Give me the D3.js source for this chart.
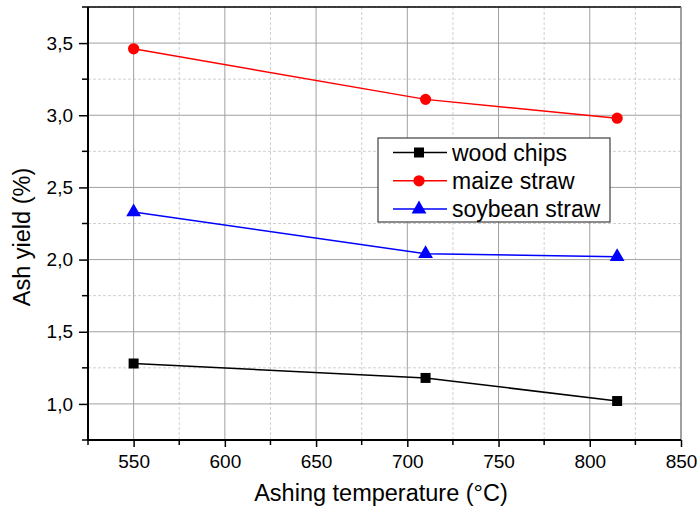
<!DOCTYPE html>
<html>
<head>
<meta charset="utf-8">
<script src="https://cdn.jsdelivr.net/npm/d3@7"></script>
<style>
  body { margin: 0; background: #fff; }
  svg { font-family: Arial, "Liberation Sans", sans-serif; }
</style>
</head>
<body>
<script>
const temperatures = [550, 710, 815];
const woodChips = [1.28, 1.18, 1.02];
const maizeStraw = [3.46, 3.11, 2.98];
const soybeanStraw = [2.33, 2.04, 2.02];
const xTicks = [550, 600, 650, 700, 750, 800, 850];
const yTicks = [1.0, 1.5, 2.0, 2.5, 3.0, 3.5];

const series = [
  { name: 'wood chips', values: woodChips, color: '#000000', symbol: d3.symbolSquare, size: 100 },
  { name: 'maize straw', values: maizeStraw, color: '#ff0000', symbol: d3.symbolCircle, size: 100 },
  { name: 'soybean straw', values: soybeanStraw, color: '#0000ff', symbol: d3.symbolTriangle, size: 95 },
];

const width = 697;
const height = 515;
const plot = { left: 88, right: 681, top: 7, bottom: 440 };

const svg = d3.select('body').append('svg')
  .attr('width', width)
  .attr('height', height);

const x = d3.scaleLinear().domain([525, 850]).range([plot.left, plot.right]);
const y = d3.scaleLinear().domain([0.75, 3.75]).range([plot.bottom, plot.top]);

const xMinor = d3.range(525, 851, 25).filter(v => v % 50 !== 0);
const yMinor = d3.range(0.75, 3.76, 0.5);

// grid
const grid = svg.append('g').attr('class', 'grid');
grid.selectAll('.vminor').data(xMinor).enter().append('line')
  .attr('x1', d => x(d)).attr('x2', d => x(d))
  .attr('y1', plot.top).attr('y2', plot.bottom)
  .attr('stroke', '#d0d0d0').attr('stroke-dasharray', '3,2');
grid.selectAll('.hminor').data(yMinor).enter().append('line')
  .attr('y1', d => y(d)).attr('y2', d => y(d))
  .attr('x1', plot.left).attr('x2', plot.right)
  .attr('stroke', '#d0d0d0').attr('stroke-dasharray', '3,2');
grid.selectAll('.vmajor').data(xTicks.slice(0, -1)).enter().append('line')
  .attr('x1', d => x(d)).attr('x2', d => x(d))
  .attr('y1', plot.top).attr('y2', plot.bottom)
  .attr('stroke', '#a0a0a0');
grid.selectAll('.hmajor').data(yTicks).enter().append('line')
  .attr('y1', d => y(d)).attr('y2', d => y(d))
  .attr('x1', plot.left).attr('x2', plot.right)
  .attr('stroke', '#a0a0a0');

// frame (top and right)
svg.append('line')
  .attr('x1', plot.left).attr('x2', plot.right)
  .attr('y1', plot.top).attr('y2', plot.top)
  .attr('stroke', '#000').attr('stroke-width', 1.5);
svg.append('line')
  .attr('x1', plot.right).attr('x2', plot.right)
  .attr('y1', plot.top).attr('y2', plot.bottom)
  .attr('stroke', '#808080').attr('stroke-width', 1.5);

// axes
const xAxis = svg.append('g')
  .attr('transform', `translate(0, ${plot.bottom})`)
  .call(d3.axisBottom(x).tickValues(xTicks).tickSize(7).tickPadding(8).tickFormat(d3.format('d')));
xAxis.append('g').selectAll('line').data(xMinor).enter().append('line')
  .attr('x1', d => x(d)).attr('x2', d => x(d))
  .attr('y1', 0).attr('y2', 5).attr('stroke', '#000').attr('stroke-width', 1.5);

const yAxis = svg.append('g')
  .attr('transform', `translate(${plot.left}, 0)`)
  .call(d3.axisLeft(y).tickValues(yTicks).tickSize(9).tickPadding(6)
    .tickFormat(d => d3.format('.1f')(d).replace('.', ',')));
yAxis.append('g').selectAll('line').data(yMinor).enter().append('line')
  .attr('y1', d => y(d)).attr('y2', d => y(d))
  .attr('x1', 0).attr('x2', -6).attr('stroke', '#000').attr('stroke-width', 1.5);

[xAxis, yAxis].forEach((ax) => {
  ax.select('.domain').attr('stroke-width', 2);
  ax.selectAll('.tick line').attr('stroke-width', 1.5);
  ax.selectAll('.tick text').attr('font-size', 19).attr('fill', '#000')
    .attr('font-family', 'Arial, "Liberation Sans", sans-serif');
});
xAxis.select('.domain').attr('d', `M${plot.left},0H${plot.right}`);
yAxis.select('.domain').attr('d', `M0,${plot.top}V${plot.bottom}`);

// axis titles
svg.append('text')
  .attr('x', 381)
  .attr('y', 501)
  .attr('text-anchor', 'middle')
  .attr('font-size', 23.5)
  .text('Ashing temperature (°C)');
svg.append('text')
  .attr('transform', `translate(30, 237) rotate(-90)`)
  .attr('text-anchor', 'middle')
  .attr('font-size', 23.5)
  .text('Ash yield (%)');

// series
const line = d3.line().x(d => x(d[0])).y(d => y(d[1]));
series.forEach((s) => {
  const pts = temperatures.map((t, i) => [t, s.values[i]]);
  const g = svg.append('g').attr('class', 'series');
  g.append('path')
    .attr('d', line(pts))
    .attr('fill', 'none')
    .attr('stroke', s.color)
    .attr('stroke-width', 1.5);
  g.selectAll('path.marker').data(pts).enter().append('path')
    .attr('class', 'marker')
    .attr('transform', d => `translate(${x(d[0])}, ${y(d[1])})`)
    .attr('d', d3.symbol().type(s.symbol).size(s.size))
    .attr('fill', s.color);
});

// legend
const legend = svg.append('g').attr('transform', 'translate(378, 138)');
legend.append('rect')
  .attr('width', 232).attr('height', 84)
  .attr('fill', '#fff').attr('stroke', '#404040').attr('stroke-width', 1.2);
series.forEach((s, i) => {
  const row = legend.append('g').attr('transform', `translate(0, ${14.5 + i * 28.3})`);
  row.append('line')
    .attr('x1', 15).attr('x2', 69)
    .attr('stroke', s.color).attr('stroke-width', 1.5);
  row.append('path')
    .attr('transform', 'translate(41, 0)')
    .attr('d', d3.symbol().type(s.symbol).size(s.size))
    .attr('fill', s.color);
  row.append('text')
    .attr('x', 74)
    .attr('y', 8)
    .attr('font-size', 23)
    .text(s.name);
});
</script>
</body>
</html>
